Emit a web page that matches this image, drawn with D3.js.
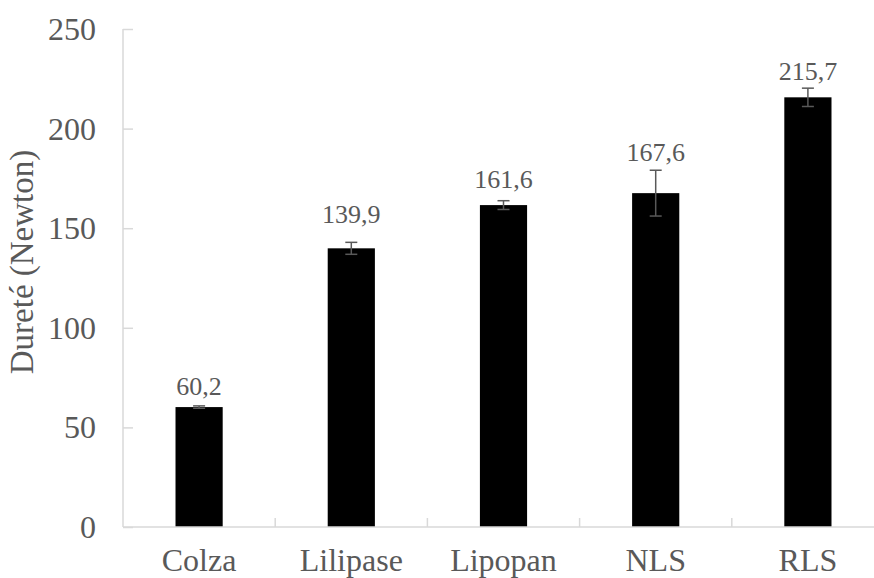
<!DOCTYPE html>
<html>
<head>
<meta charset="utf-8">
<script src="https://cdn.jsdelivr.net/npm/d3@7"></script>
</head>
<body style="margin:0">
<svg id="chart" width="874" height="578"></svg>
<script>
// ---- data ----
const categories = ["Colza", "Lilipase", "Lipopan", "NLS", "RLS"];
const values = [60.2, 139.9, 161.6, 167.6, 215.7];
const errors = [0.6, 3.0, 2.2, 11.5, 4.6];
const valueLabels = ["60,2", "139,9", "161,6", "167,6", "215,7"];
const yTicks = [0, 50, 100, 150, 200, 250];
const yTitle = "Dureté (Newton)";
// layout: label lift above bar top (px), as placed in the original
const labelLift = [12, 25, 17, 32, 17];

// ---- layout ----
const svg = d3.select("#chart");
const plotL = 123, plotR = 884, plotT = 29, plotB = 527;
const axisColor = "#d9d9d9", textColor = "#595959";

const x = d3.scaleBand().domain(categories).range([plotL, plotR]).padding(0);
const y = d3.scaleLinear().domain([0, 250]).range([plotB, plotT]);
const barW = x.bandwidth() * 0.31;

function addText(tx, ty, str, size, anchor, rotate) {
  const t = svg.append("text").style("font-family", `"Liberation Serif"`);
  if (rotate) t.attr("transform", `translate(${tx},${ty}) rotate(${rotate})`);
  else t.attr("x", tx).attr("y", ty);
  t.attr("font-size", size).attr("text-anchor", anchor).attr("fill", textColor).text(str);
  return t;
}

// bars
svg.append("g").selectAll("rect").data(categories).join("rect")
  .attr("x", (d) => x(d) + x.bandwidth() / 2 - barW / 2)
  .attr("y", (d, i) => y(values[i]))
  .attr("width", barW)
  .attr("height", (d, i) => y(0) - y(values[i]))
  .attr("fill", "#000");

// y axis
const yAxis = svg.append("g").attr("transform", `translate(${plotL},0)`)
  .call(d3.axisRight(y).tickValues(yTicks).tickSize(10).tickFormat(""));
yAxis.select(".domain").attr("stroke", axisColor).attr("stroke-width", 1.5).attr("d", `M0,${plotB}V${plotT}`);
yAxis.selectAll(".tick line").attr("stroke", axisColor).attr("stroke-width", 1.5);

// x axis
const xAxis = svg.append("g").attr("transform", `translate(0,${plotB})`)
  .call(d3.axisBottom(x).tickSize(0).tickFormat(""));
xAxis.select(".domain").attr("stroke", axisColor).attr("stroke-width", 1.5).attr("d", `M${plotL},0H${plotR}`);
// boundary ticks between categories (pointing up)
svg.append("g").selectAll("line").data(categories.slice(1)).join("line")
  .attr("x1", (d) => x(d)).attr("x2", (d) => x(d))
  .attr("y1", plotB).attr("y2", plotB - 9)
  .attr("stroke", axisColor).attr("stroke-width", 1.5);

// error bars
const eg = svg.append("g").attr("stroke", "#595959").attr("stroke-width", 1.5);
categories.forEach((c, i) => {
  const cx = x(c) + x.bandwidth() / 2;
  const y1 = y(values[i] + errors[i]), y2 = y(values[i] - errors[i]);
  eg.append("line").attr("x1", cx).attr("x2", cx).attr("y1", y1).attr("y2", y2);
  eg.append("line").attr("x1", cx - 6).attr("x2", cx + 6).attr("y1", y1).attr("y2", y1);
  eg.append("line").attr("x1", cx - 6).attr("x2", cx + 6).attr("y1", y2).attr("y2", y2);
});

// y tick labels
yTicks.forEach((v) => addText(96, y(v) + 11, v, 32, "end"));

// category labels
categories.forEach((c) => addText(x(c) + x.bandwidth() / 2, 571, c, 32, "middle"));

// value labels
categories.forEach((c, i) => addText(x(c) + x.bandwidth() / 2, y(values[i]) - labelLift[i], valueLabels[i], 26, "middle"));

// y title
addText(33, 262, yTitle, 33, "middle", -90);
</script>
</body>
</html>
